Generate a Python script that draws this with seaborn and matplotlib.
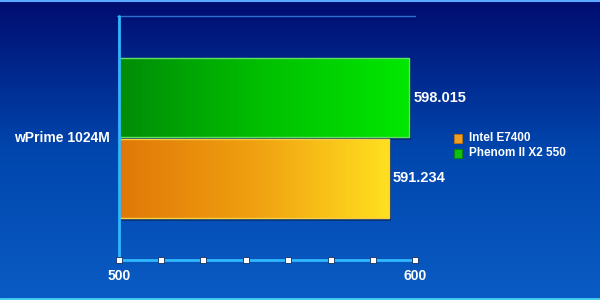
import numpy as np
import pandas as pd
import matplotlib
matplotlib.use("Agg")
import matplotlib.pyplot as plt
from matplotlib.colors import LinearSegmentedColormap
from matplotlib.patches import Rectangle
import seaborn as sns

categories = ["wPrime 1024M"]
processors = ["Intel E7400", "Phenom II X2 550"]
values = [591.234, 598.015]
value_labels = ["591.234", "598.015"]
tick_labels = ["500", "600"]
xmin, xmax = 500, 600

sns.set_theme(style="white")
plt.rcParams["font.family"] = ["Liberation Sans", "DejaVu Sans"]

df = pd.DataFrame({"benchmark": categories * len(processors),
                   "processor": processors, "score": values})

fig = plt.figure(figsize=(6, 3), dpi=100)

# background gradient
bg = fig.add_axes([0, 0, 1, 1], zorder=-10)
bg_cmap = LinearSegmentedColormap.from_list("bg", ["#000c70", "#0046ad", "#0a5cc4"])
grad = np.linspace(0, 1, 256).reshape(-1, 1)
bg.imshow(grad, cmap=bg_cmap, aspect="auto", extent=[0, 1, 0, 1], origin="upper")
bg.set_xlim(0, 1); bg.set_ylim(0, 1); bg.axis("off")
bg.axhline(0.997, color="#5aa8ff", lw=1.5)
bg.axhline(0.004, color="#48d0f0", lw=2)

ax = fig.add_axes([0.198, 0.133, 0.494, 0.814])
ax.patch.set_alpha(0)

palette = {"Intel E7400": "#f0a020", "Phenom II X2 550": "#10c010"}
order = ["Phenom II X2 550", "Intel E7400"]
sns.barplot(data=df, y="benchmark", x="score", hue="processor",
            hue_order=order, palette=palette,
            width=0.66, gap=0.02, ax=ax, legend=False, orient="h")

ax.set_xlim(xmin, xmax)
ax.set_ylim(0.5, -0.5)

cmaps = {"Phenom II X2 550": LinearSegmentedColormap.from_list("g", ["#008c08", "#00c000", "#00e800"]),
         "Intel E7400": LinearSegmentedColormap.from_list("o", ["#e07808", "#f0a010", "#ffe020"])}
edges = {"Phenom II X2 550": "#60e060", "Intel E7400": "#f8d040"}
hgrad = np.linspace(0, 1, 256).reshape(1, -1)
bars = list(ax.patches)
for patch, name in zip(bars, order):
    x0, y0 = patch.get_x(), patch.get_y()
    w, h = patch.get_width(), patch.get_height()
    x1 = x0 + w
    xs = max(x0, xmin)
    sh = Rectangle((xs + 0.6, y0 + 0.012), x1 - xs, h, facecolor="#0a2a60",
                   edgecolor="none", alpha=0.7, zorder=1)
    ax.add_patch(sh)
    patch.set_facecolor("none")
    patch.set_edgecolor(edges[name])
    patch.set_linewidth(1.0)
    patch.set_zorder(3)
    ax.imshow(hgrad, cmap=cmaps[name], aspect="auto",
              extent=[xs, x1, y0 + h, y0], zorder=2)

ax.set_xlim(xmin, xmax)
ax.set_ylim(0.5, -0.5)

# value labels
for patch, name in zip(bars, order):
    i = processors.index(name)
    ax.text(values[i] + 1.3, patch.get_y() + patch.get_height() / 2,
            value_labels[i], color="white",
            fontsize=10.5, fontweight="bold", va="center", ha="left")

for s in ax.spines.values():
    s.set_visible(False)
ax.set_xticks([]); ax.set_yticks([])
ax.set_xlabel(""); ax.set_ylabel("")

# axes lines
ax.plot([xmin, xmin], [0.5, -0.5], color="#30b8ff", lw=2, clip_on=False, zorder=5)
ax.plot([xmin, xmax], [0.5, 0.5], color="#30b8ff", lw=2, clip_on=False, zorder=5)
ax.plot([xmin - 0.5, xmax], [-0.5, -0.5], color="#2c70d0", lw=1, clip_on=False, zorder=1)
ticks = np.linspace(xmin, xmax, 8)
ax.plot(ticks, [0.5] * len(ticks), ls="none", marker="s", ms=4.5, mfc="white",
        mec="#103060", mew=0.6, clip_on=False, zorder=6)
for t, lab in zip([xmin, xmax], tick_labels):
    ax.text(t, 0.535, lab, color="white", fontsize=10, fontweight="bold",
            ha="center", va="top")

ax.text(-0.03, 0.5, categories[0], transform=ax.transAxes, color="white",
        fontsize=10, fontweight="bold", ha="right", va="center")

# legend
leg_items = [("Intel E7400", "#f0a020", "#c07010"), ("Phenom II X2 550", "#10c010", "#088008")]
for i, (name, c, ec) in enumerate(leg_items):
    yy = 1 - (138 + i * 15) / 300
    fig.patches.append(Rectangle((454 / 600, yy - 4.5 / 300), 8 / 600, 9 / 300,
                                 facecolor=c, edgecolor=ec, lw=0.6,
                                 transform=fig.transFigure, figure=fig))
    fig.text(469 / 600, yy, name, color="white", fontsize=8.5, fontweight="bold",
             va="center", ha="left")

fig.savefig("out.png", dpi=100)
